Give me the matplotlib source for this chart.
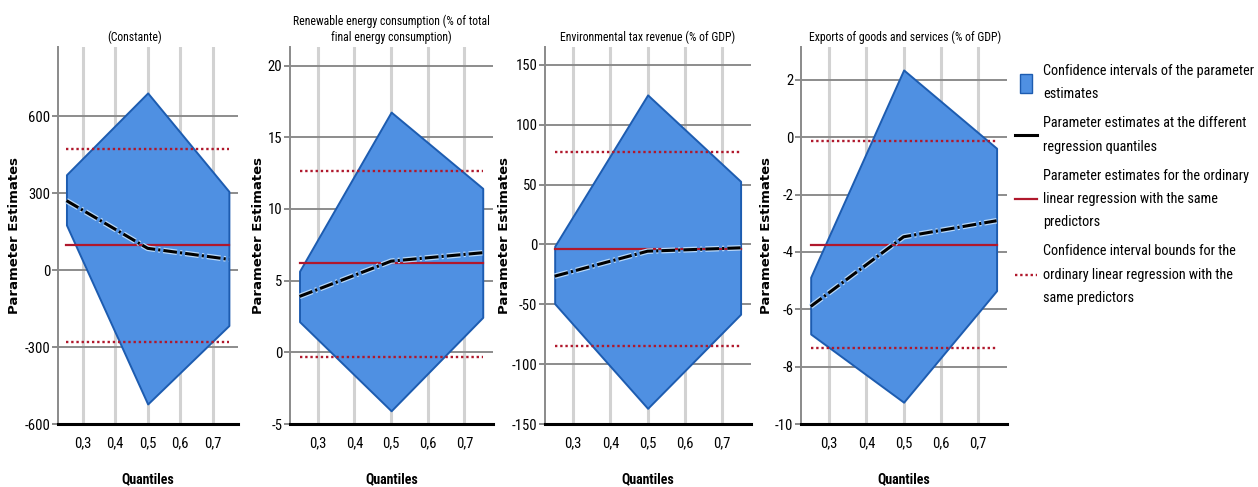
import matplotlib
matplotlib.use("Agg")
import matplotlib.pyplot as plt
from matplotlib import font_manager
from matplotlib.lines import Line2D
from matplotlib.patches import Patch, Rectangle
from matplotlib.legend_handler import HandlerPatch
import matplotlib.patheffects as pe

# pick a condensed font if one is installed
names = {f.name for f in font_manager.fontManager.ttflist}
narrow = next((n for n in ["Liberation Sans Narrow", "Roboto Condensed", "Open Sans Condensed",
                           "Liberation Sans"] if n in names), "DejaVu Sans")
plt.rcParams['font.family'] = [narrow, 'DejaVu Sans']

quantiles = [0.25, 0.5, 0.75]

titles = ["(Constante)",
          "Renewable energy consumption (% of total\nfinal energy consumption)",
          "Environmental tax revenue (% of GDP)",
          "Exports of goods and services (% of GDP)"]

# confidence band of quantile estimates
ci_upper = [[372, 691, 307], [5.66, 16.76, 11.44], [-1.5, 125, 52.8], [-4.88, 2.35, -0.38]]
ci_lower = [[176, -522, -216], [2.14, -4.08, 2.44], [-49.4, -136.9, -58.3], [-6.86, -9.24, -5.35]]
# quantile regression estimates
q_est = [[271, 85, 42], [3.9, 6.36, 6.95], [-26.5, -5.6, -2.8], [-5.9, -3.47, -2.91]]
# OLS estimate and its confidence bounds
ols_est = [97, 6.24, -3.6, -3.76]
ols_low = [-282, -0.33, -84.6, -7.35]
ols_high = [472, 12.66, 77, -0.13]

yticks = [[-600, -300, 0, 300, 600], [-5, 0, 5, 10, 15, 20],
          [-150, -100, -50, 0, 50, 100, 150], [-10, -8, -6, -4, -2, 0, 2]]
ylims = [(-600, 870), (-5, 21.3), (-150, 165), (-10, 3.15)]
xticks = [0.3, 0.4, 0.5, 0.6, 0.7]
xticklabels = ["0,3", "0,4", "0,5", "0,6", "0,7"]

W, H = 1258, 487
fig = plt.figure(figsize=(W / 100, H / 100), dpi=100)

# axes boxes in pixels: left, width
boxes = [(58, 180), (290, 203), (545, 206), (801, 206)]
title_x = [135, 391, 648, 905]
ylab_x = [15, 258, 505, 767]
top, bottom = 47, 424

fill_c = '#4f90e2'
edge_c = '#1d5cb0'
red = '#b0182c'

for i in range(4):
    l, w = boxes[i]
    ax = fig.add_axes([l / W, (H - bottom) / H, w / W, (bottom - top) / H])
    ax.set_axisbelow(True)
    ax.fill_between(quantiles, ci_lower[i], ci_upper[i], facecolor=fill_c,
                    edgecolor=edge_c, linewidth=1.4, zorder=2)
    ax.plot(quantiles, q_est[i], color='black', lw=2.2, linestyle=(0, (4.5, 1, 0.7, 1)),
            zorder=4, path_effects=[pe.Stroke(linewidth=4, foreground='#b9d9fa'), pe.Normal()])
    ax.plot([quantiles[0], quantiles[-1]], [ols_est[i]] * 2, color=red, lw=1.6, zorder=3)
    for v in (ols_low[i], ols_high[i]):
        ax.plot([quantiles[0], quantiles[-1]], [v, v], color=red, lw=1.7,
                linestyle=(0, (1.0, 1.2)), zorder=3)

    ax.set_xlim(0.224, 0.778)
    ax.set_ylim(*ylims[i])
    ax.set_xticks(xticks)
    ax.set_xticklabels(xticklabels)
    ax.set_yticks(yticks[i])
    ax.set_yticklabels([str(t) for t in yticks[i]])
    ax.tick_params(axis='y', length=4.5, width=1.4, color='#8a8a8a', pad=1, labelsize=10.5)
    ax.tick_params(axis='x', length=0, pad=9, labelsize=10.5)
    ax.yaxis.grid(True, color='#8c8c8c', lw=1.4)
    ax.xaxis.grid(True, color='#d2d2d2', lw=2.2)
    for s in ('top', 'right'):
        ax.spines[s].set_visible(False)
    ax.spines['left'].set_color('#8a8a8a')
    ax.spines['left'].set_linewidth(1.4)
    ax.spines['bottom'].set_color('black')
    ax.spines['bottom'].set_linewidth(2.2)

    fig.text(title_x[i] / W, 1 - 47 / H + 0.006, titles[i], ha='center', va='bottom',
             fontsize=8.5, linespacing=1.3)
    fig.text(ylab_x[i] / W, 1 - 236 / H, "Parameter Estimates", rotation=90,
             ha='center', va='center', fontsize=9.5, fontweight='bold', family='DejaVu Sans')
    fig.text((l + w / 2) / W, 1 - 479 / H, "Quantiles", ha='center', va='center',
             fontsize=10, fontweight='bold')


def small_box(legend, orig_handle, xdescent, ydescent, width, height, fontsize):
    bw, bh = width * 0.5, height * 1.9
    return Rectangle((-xdescent + (width - bw) / 2, -ydescent + (height - bh) / 2), bw, bh)


handles = [Patch(facecolor=fill_c, edgecolor=edge_c, linewidth=1),
           Line2D([], [], color='black', lw=2.2),
           Line2D([], [], color=red, lw=1.6),
           Line2D([], [], color=red, lw=1.7, linestyle=(0, (1.0, 1.2)))]
labels = ["Confidence intervals of the parameter\nestimates",
          "Parameter estimates at the different\nregression quantiles",
          "Parameter estimates for the ordinary\nlinear regression with the same\npredictors",
          "Confidence interval bounds for the\nordinary linear regression with the\nsame predictors"]
leg = fig.legend(handles, labels, loc='upper left', bbox_to_anchor=(1002 / W, 1 - 51 / H),
                 frameon=False, fontsize=10.3, handlelength=1.55, handletextpad=0.45,
                 labelspacing=1.05,
                 handler_map={Patch: HandlerPatch(patch_func=small_box)})
for t in leg.get_texts():
    t.set_linespacing(1.85)

fig.savefig("out.png", dpi=100)
